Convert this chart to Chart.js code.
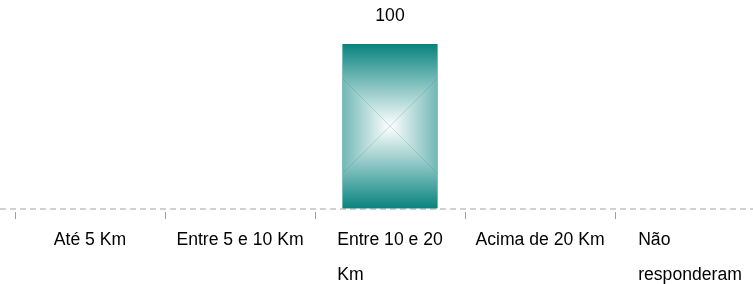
<!DOCTYPE html>
<html lang="pt">
<head>
<meta charset="UTF-8">
<title>Distância</title>
<script src="https://cdn.jsdelivr.net/npm/chart.js"></script>
<style>
    html, body { margin: 0; padding: 0; background: #fff; overflow: hidden; }
    #wrap { width: 780px; height: 284px; }
</style>
</head>
<body>
<div id="wrap"><canvas id="chart"></canvas></div>
<script>
    // dados
    const categories = ['Até 5 Km', 'Entre 5 e 10 Km', 'Entre 10 e 20 Km', 'Acima de 20 Km', 'Não responderam'];
    const labelLines = [['Até 5 Km'], ['Entre 5 e 10 Km'], ['Entre 10 e 20', 'Km'], ['Acima de 20 Km'], ['Não', 'responderam']];
    const values = [0, 0, 100, 0, 0];

    const FONT = '17.6px "Liberation Sans", Arial, sans-serif';
    const TEAL = '#08837e';

    // gradiente quadrado (distancia max(|dx|,|dy|) ao centro) + rotulo de valor
    const barDecor = {
        id: 'barDecor',
        beforeDatasetsDraw(chart) {
            // linha do eixo tracejada, por toda a largura
            const ctx = chart.ctx;
            const y = chart.chartArea.bottom + 0.5;
            ctx.save();
            ctx.strokeStyle = '#a0a0a0';
            ctx.lineWidth = 1;
            ctx.setLineDash([6, 4]);
            ctx.beginPath();
            ctx.moveTo(0, y);
            ctx.lineTo(chart.width, y);
            ctx.stroke();
            ctx.restore();
        },
        afterDatasetsDraw(chart) {
            const ctx = chart.ctx;
            const meta = chart.getDatasetMeta(0);
            meta.data.forEach((el, i) => {
                if (!values[i]) return;
                const p = el.getProps(['x', 'y', 'base', 'width'], true);
                const l = p.x - p.width / 2, r = p.x + p.width / 2, t = p.y, b = p.base;
                const cx = p.x, cy = (t + b) / 2;
                const hw = p.width / 2, H = (b - t) / 2;
                const poly = (pts, g0, g1) => {
                    const g = ctx.createLinearGradient(g0[0], g0[1], g1[0], g1[1]);
                    g.addColorStop(0, TEAL);
                    g.addColorStop(1, '#ffffff');
                    ctx.beginPath();
                    ctx.moveTo(pts[0][0], pts[0][1]);
                    for (let k = 1; k < pts.length; k++) ctx.lineTo(pts[k][0], pts[k][1]);
                    ctx.closePath();
                    ctx.fillStyle = g;
                    ctx.fill();
                };
                ctx.save();
                ctx.beginPath();
                ctx.rect(l, t, r - l, b - t);
                ctx.clip();
                poly([[l, t], [r, t], [r, cy - hw], [cx, cy], [l, cy - hw]], [cx, cy - H], [cx, cy]);
                poly([[l, b], [r, b], [r, cy + hw], [cx, cy], [l, cy + hw]], [cx, cy + H], [cx, cy]);
                poly([[l, cy - hw], [l, cy + hw], [cx, cy]], [cx - H, cy], [cx, cy]);
                poly([[r, cy - hw], [r, cy + hw], [cx, cy]], [cx + H, cy], [cx, cy]);
                ctx.restore();
                ctx.save();
                ctx.fillStyle = '#000';
                ctx.font = FONT;
                ctx.textAlign = 'center';
                ctx.textBaseline = 'middle';
                ctx.fillText(String(values[i]), p.x, t - 27.5);
                ctx.restore();
            });
        },
        afterDraw(chart) {
            // rotulos do eixo x: bloco centrado, linhas alinhadas a esquerda
            const ctx = chart.ctx;
            const xs = chart.scales.x;
            const bottom = chart.chartArea.bottom;
            ctx.save();
            ctx.font = FONT;
            ctx.fillStyle = '#000';
            ctx.textAlign = 'left';
            ctx.textBaseline = 'alphabetic';
            labelLines.forEach((lines, i) => {
                const cx = xs.getPixelForValue(i);
                const w = Math.max(...lines.map(s => ctx.measureText(s).width));
                lines.forEach((s, k) => {
                    ctx.fillText(s, cx - w / 2, bottom + 36.5 + k * 35);
                });
            });
            ctx.restore();
        }
    };

    new Chart(document.getElementById('chart'), {
        type: 'bar',
        data: {
            labels: categories,
            datasets: [{
                data: values,
                backgroundColor: TEAL,
                borderWidth: 0,
                categoryPercentage: 1,
                barPercentage: 0.633
            }]
        },
        options: {
            responsive: true,
            maintainAspectRatio: false,
            animation: false,
            layout: { padding: { left: 15, right: 15, top: 44, bottom: 0 } },
            plugins: { legend: { display: false }, tooltip: { enabled: false } },
            scales: {
                x: {
                    grid: {
                        offset: true,
                        drawOnChartArea: false,
                        drawTicks: true,
                        tickLength: 11,
                        tickColor: '#a0a0a0',
                        tickWidth: 1,
                        tickBorderDash: [0, 3, 7, 30]
                    },
                    border: { display: false },
                    ticks: { display: false },
                    afterFit(s) { s.height = 75.5; }
                },
                y: {
                    display: false,
                    min: 0,
                    max: 100
                }
            }
        },
        plugins: [barDecor]
    });
</script>
</body>
</html>
